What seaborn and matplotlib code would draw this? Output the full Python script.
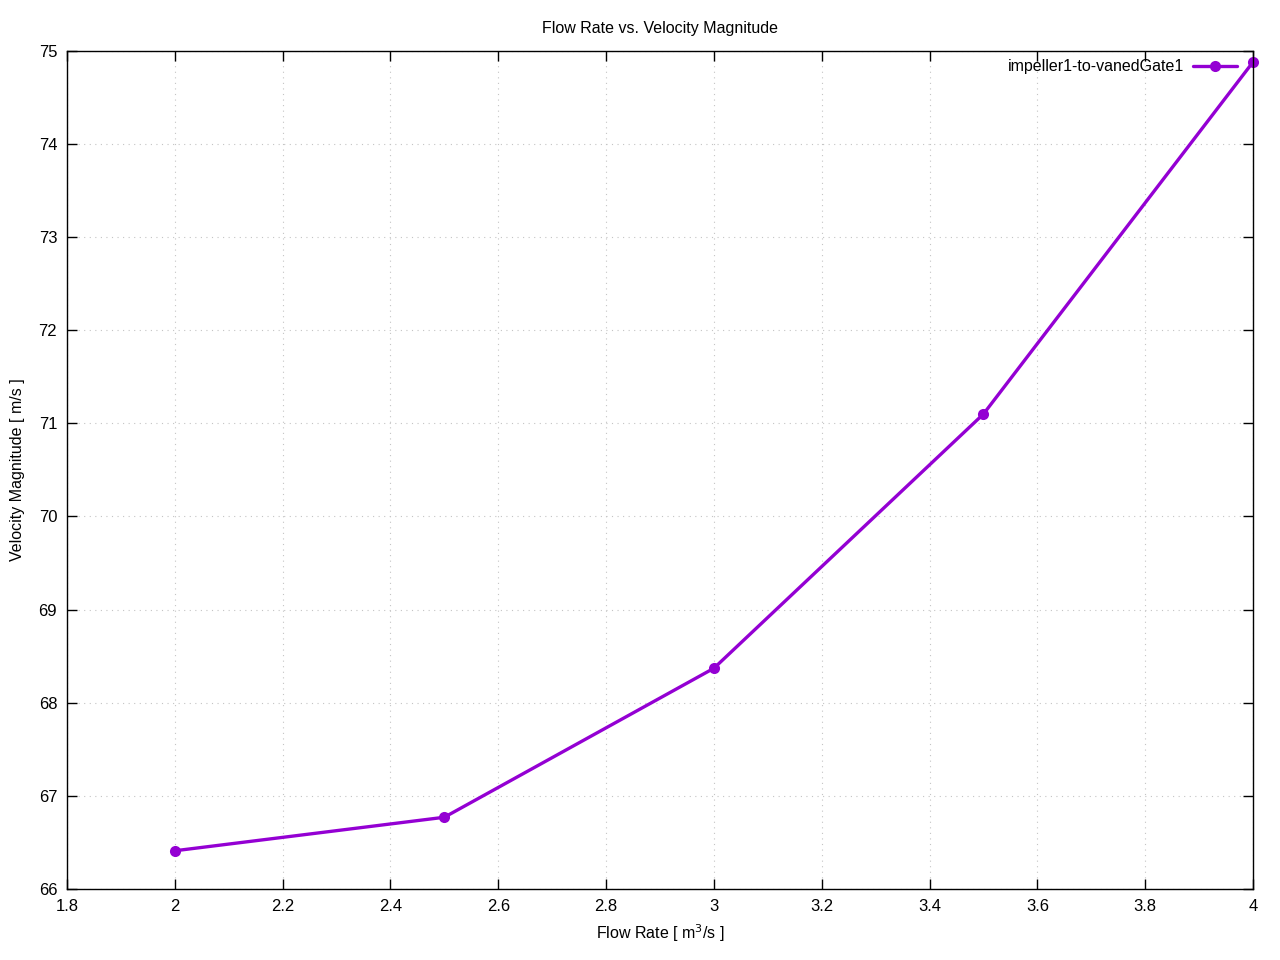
import numpy as np
import pandas as pd
import matplotlib
matplotlib.use("Agg")
import matplotlib.pyplot as plt
import seaborn as sns

flow_rate = [2.0, 2.5, 3.0, 3.5, 4.0]
velocity = [66.41, 66.77, 68.37, 71.10, 74.88]
series_name = "impeller1-to-vanedGate1"

df = pd.DataFrame({"Flow Rate": flow_rate, "Velocity": velocity})

sns.set_style("white")
plt.rcParams["font.family"] = ["Liberation Sans", "DejaVu Sans"]
plt.rcParams["text.color"] = "black"
plt.rcParams["axes.labelcolor"] = "black"

fig = plt.figure(figsize=(12.8, 9.6), dpi=100)
ax = fig.add_axes([0.0523, 0.074, 0.9266, 0.873])

sns.lineplot(data=df, x="Flow Rate", y="Velocity", ax=ax, color="#9400d3",
             linewidth=2.4, marker="o", markersize=8, markeredgewidth=0,
             label=series_name, clip_on=False)

ax.set_xlim(1.8, 4.0)
ax.set_ylim(66, 75)
ax.set_xticks(np.arange(1.8, 4.01, 0.2))
ax.set_xticklabels(["1.8", "2", "2.2", "2.4", "2.6", "2.8", "3", "3.2", "3.4", "3.6", "3.8", "4"])
ax.set_yticks(range(66, 76))

ax.grid(True, linestyle=(0, (1, 4)), color="#c4c4c4", linewidth=0.8)
ax.tick_params(direction="in", length=7, width=1, top=True, right=True,
               bottom=True, left=True, labelsize=12, colors="black", pad=7)
for s in ax.spines.values():
    s.set_color("black")
    s.set_linewidth(1)

ax.set_title("Flow Rate vs. Velocity Magnitude", fontsize=11.5, pad=13, color="black")
ax.set_xlabel("Flow Rate [ m$^3$/s ]", fontsize=11.5, labelpad=6)
ax.set_ylabel("Velocity Magnitude [ m/s ]", fontsize=11.5, labelpad=10)

ax.legend(loc="upper right", bbox_to_anchor=(0.9975, 1.005), frameon=False,
          markerfirst=False, fontsize=11.5, handlelength=2.75,
          borderaxespad=0.2, borderpad=0.6, handletextpad=0.6)

fig.savefig("out.png", dpi=100)
